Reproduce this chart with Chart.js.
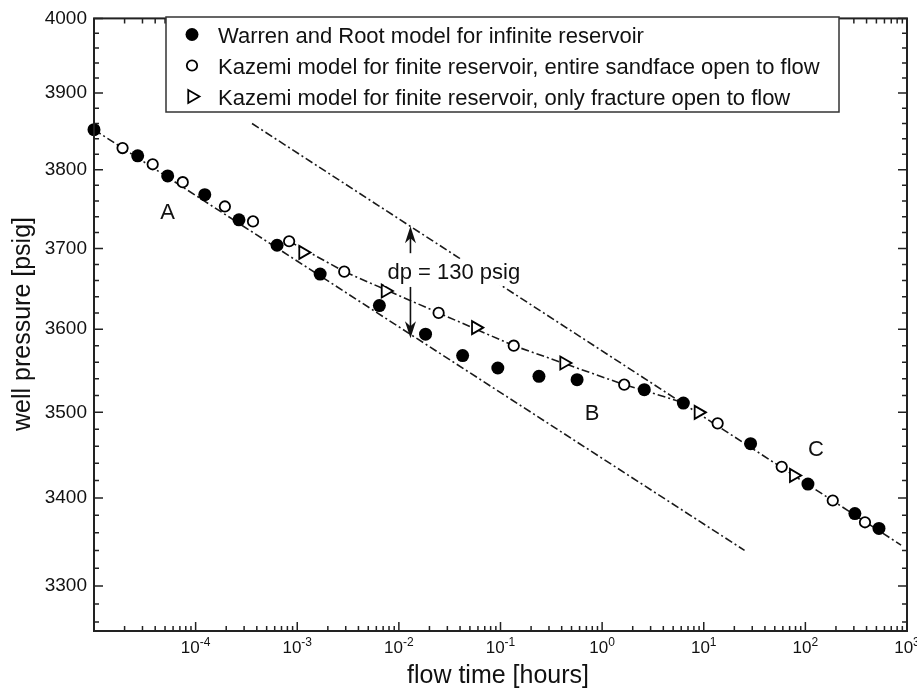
<!DOCTYPE html>
<html>
<head>
<meta charset="utf-8">
<script src="https://cdn.jsdelivr.net/npm/chart.js@4.4.1/dist/chart.umd.min.js"></script>
<style>
  html, body { margin: 0; padding: 0; background: #fff; }
  #wrap { width: 917px; height: 695px; }
</style>
</head>
<body>
<div id="wrap"><canvas id="chart"></canvas></div>
<script>
// valores (tempo em horas, pressão em psig)
const wrTime = [1e-5, 2.69e-5, 5.31e-5, 1.23e-4, 2.67e-4, 6.33e-4, 1.68e-3, 6.43e-3, 0.0183, 0.0424, 0.0941, 0.239, 0.567, 2.6, 6.3, 28.9, 106, 307, 530];
const wrPressure = [3852, 3818, 3792, 3768, 3736, 3704, 3668, 3629, 3594, 3568, 3553, 3543, 3539, 3527, 3511, 3463, 3416, 3382, 3365];

const sandTime = [1.91e-5, 3.78e-5, 7.47e-5, 1.94e-4, 3.67e-4, 8.32e-4, 2.9e-3, 0.0246, 0.135, 1.65, 13.7, 58.5, 186, 386];
const sandPressure = [3828, 3807, 3784, 3753, 3734, 3709, 3671, 3620, 3580, 3533, 3487, 3436, 3397, 3372];

const fracTime = [1.14e-3, 7.38e-3, 0.0571, 0.422, 8.86, 76.8];
const fracPressure = [3695, 3647, 3602, 3559, 3500, 3426];

// retas e curva tracejadas
const lineATime = [1e-5, 25.2];
const lineAPressure = [3852, 3340];
const lineCTime = [3.59e-4, 874];
const lineCPressure = [3860, 3346];
const kazemiTime = [8.32e-4, 2.9e-3, 0.0246, 0.135, 1.65, 2.6, 5.75];
const kazemiPressure = [3709, 3671, 3620, 3580, 3533, 3526, 3513];

const seriesLabels = [
  "Warren and Root model for infinite reservoir",
  "Kazemi model for finite reservoir, entire sandface open to flow",
  "Kazemi model for finite reservoir, only fracture open to flow"
];

const yTicks = [3300, 3400, 3500, 3600, 3700, 3800, 3900, 4000];
const xTickExp = [-4, -3, -2, -1, 0, 1, 2, 3];

// anotações (posição em coordenadas de dados)
const notes = [
  { text: "A", t: 5.3e-5, p: 3745 },
  { text: "B", t: 0.797, p: 3498 },
  { text: "C", t: 126.7, p: 3456 }
];
const dp = { t: 0.013, top: 3728, topEnd: 3694, bottomStart: 3652, bottom: 3589, label: "dp = 130 psig", labelT: 7.72e-3, labelP: 3662 };

const FONT = '"Liberation Sans", Arial, Helvetica, sans-serif';
const INK = "#111";
const DASH = [8, 3, 2, 3];

const pts = (xs, ys) => xs.map((x, i) => ({ x: x, y: ys[i] }));

function drawMarker(ctx, ds, x, y) {
  ctx.save();
  ctx.fillStyle = ds.backgroundColor;
  ctx.strokeStyle = ds.borderColor;
  ctx.lineWidth = ds.borderWidth;
  ctx.beginPath();
  if (ds.pointStyle === "triangle") {
    let rad = Math.PI / 2;
    const r = ds.pointRadius;
    ctx.moveTo(x + Math.sin(rad) * r, y - Math.cos(rad) * r);
    rad += 2 * Math.PI / 3;
    ctx.lineTo(x + Math.sin(rad) * r, y - Math.cos(rad) * r);
    rad += 2 * Math.PI / 3;
    ctx.lineTo(x + Math.sin(rad) * r, y - Math.cos(rad) * r);
    ctx.closePath();
  } else {
    ctx.arc(x, y, ds.pointRadius, 0, Math.PI * 2);
  }
  ctx.fill();
  if (ds.borderWidth > 0) ctx.stroke();
  ctx.restore();
}

const figure = {
  id: "figure",
  afterDatasetsDraw(chart) {
    const { ctx, scales: { x, y } } = chart;
    ctx.save();
    ctx.fillStyle = INK;
    ctx.strokeStyle = INK;

    // letras A, B, C
    ctx.font = "22px " + FONT;
    ctx.textAlign = "center";
    ctx.textBaseline = "middle";
    notes.forEach(n => ctx.fillText(n.text, x.getPixelForValue(n.t), y.getPixelForValue(n.p)));

    // texto dp com fundo branco (corta a reta de cima)
    ctx.textAlign = "left";
    ctx.textBaseline = "alphabetic";
    const lx = x.getPixelForValue(dp.labelT), ly = y.getPixelForValue(dp.labelP);
    const lw = ctx.measureText(dp.label).width;
    ctx.fillStyle = "#fff";
    ctx.fillRect(lx - 3, ly - 20, lw + 6, 27);
    ctx.fillStyle = INK;
    ctx.fillText(dp.label, lx, ly);

    // setas dp
    const ax = x.getPixelForValue(dp.t);
    const arrow = (fromP, tipP) => {
      const y0 = y.getPixelForValue(fromP), y1 = y.getPixelForValue(tipP);
      const dir = y1 > y0 ? 1 : -1;
      ctx.lineWidth = 1.6;
      ctx.beginPath();
      ctx.moveTo(ax, y0);
      ctx.lineTo(ax, y1 - dir * 6);
      ctx.stroke();
      ctx.beginPath();
      ctx.moveTo(ax, y1);
      ctx.lineTo(ax - 5.5, y1 - dir * 17);
      ctx.lineTo(ax, y1 - dir * 12);
      ctx.lineTo(ax + 5.5, y1 - dir * 17);
      ctx.closePath();
      ctx.fill();
    };
    arrow(dp.topEnd, dp.top);
    arrow(dp.bottomStart, dp.bottom);
    ctx.restore();
  },
  afterDraw(chart) {
    const { ctx, chartArea: a, scales: { x, y } } = chart;
    ctx.save();
    ctx.strokeStyle = "#222";
    ctx.fillStyle = INK;

    // moldura
    ctx.lineWidth = 2;
    ctx.strokeRect(a.left, a.top, a.right - a.left, a.bottom - a.top);

    // marcas do eixo x (log)
    ctx.lineWidth = 1.5;
    ctx.beginPath();
    for (let e = -5; e <= 3; e++) {
      for (let m = 1; m <= 9; m++) {
        const v = m * Math.pow(10, e);
        if (v < x.min * 0.999 || v > x.max * 1.001) continue;
        const px = x.getPixelForValue(v);
        const len = m === 1 ? 9 : 5;
        ctx.moveTo(px, a.bottom); ctx.lineTo(px, a.bottom - len);
        ctx.moveTo(px, a.top); ctx.lineTo(px, a.top + len);
      }
    }
    // marcas do eixo y
    for (let v = 3260; v <= 4000; v += 20) {
      const py = y.getPixelForValue(v);
      const len = v % 100 === 0 ? 9 : 5;
      ctx.moveTo(a.left, py); ctx.lineTo(a.left + len, py);
      ctx.moveTo(a.right, py); ctx.lineTo(a.right - len, py);
    }
    ctx.stroke();

    // rótulos do eixo x: 10^n
    ctx.textBaseline = "alphabetic";
    ctx.textAlign = "left";
    xTickExp.forEach(e => {
      const px = x.getPixelForValue(Math.pow(10, e));
      ctx.font = "17px " + FONT;
      const w1 = ctx.measureText("10").width;
      ctx.font = "12px " + FONT;
      const sup = String(e);
      const w2 = ctx.measureText(sup).width;
      const x0 = px - (w1 + w2) / 2;
      ctx.font = "17px " + FONT;
      ctx.fillText("10", x0, a.bottom + 22);
      ctx.font = "12px " + FONT;
      ctx.fillText(sup, x0 + w1, a.bottom + 15);
    });

    // títulos dos eixos
    ctx.font = "25px " + FONT;
    ctx.textAlign = "center";
    ctx.fillText("flow time [hours]", 498, 683);
    ctx.save();
    ctx.translate(30, 324);
    ctx.rotate(-Math.PI / 2);
    ctx.fillText("well pressure [psig]", 0, 0);
    ctx.restore();

    // legenda
    ctx.fillStyle = "#fff";
    ctx.fillRect(166, 17, 673, 95);
    ctx.lineWidth = 1.5;
    ctx.strokeStyle = "#333";
    ctx.strokeRect(166, 17, 673, 95);
    ctx.font = "22px " + FONT;
    ctx.textAlign = "left";
    ctx.textBaseline = "alphabetic";
    chart.data.datasets.slice(0, 3).forEach((ds, i) => {
      const ry = 34.5 + i * 31;
      drawMarker(ctx, ds, 192, ry);
      ctx.fillStyle = INK;
      ctx.fillText(ds.label, 218, ry + 8.5);
    });
    ctx.restore();
  }
};

const dashed = (xs, ys) => ({
  data: pts(xs, ys),
  showLine: true,
  borderColor: "#1a1a1a",
  borderWidth: 1.6,
  borderDash: DASH,
  pointRadius: 0,
  fill: false
});

new Chart(document.getElementById("chart"), {
  type: "scatter",
  data: {
    datasets: [
      {
        label: seriesLabels[0],
        data: pts(wrTime, wrPressure),
        pointStyle: "circle",
        pointRadius: 6.5,
        backgroundColor: "#000",
        borderColor: "#000",
        borderWidth: 0,
        clip: false
      },
      {
        label: seriesLabels[1],
        data: pts(sandTime, sandPressure),
        pointStyle: "circle",
        pointRadius: 5.2,
        backgroundColor: "#fff",
        borderColor: "#000",
        borderWidth: 1.8,
        clip: false
      },
      {
        label: seriesLabels[2],
        data: pts(fracTime, fracPressure),
        pointStyle: "triangle",
        pointRotation: 90,
        pointRadius: 7.5,
        backgroundColor: "#fff",
        borderColor: "#000",
        borderWidth: 1.8,
        clip: false
      },
      dashed(lineATime, lineAPressure),
      dashed(lineCTime, lineCPressure),
      dashed(kazemiTime, kazemiPressure)
    ]
  },
  options: {
    responsive: true,
    maintainAspectRatio: false,
    animation: false,
    layout: { padding: { left: 0, top: 12, right: 10, bottom: 0 } },
    plugins: { legend: { display: false }, tooltip: { enabled: false } },
    scales: {
      x: {
        type: "logarithmic",
        min: 1e-5,
        max: 1e3,
        grid: { display: false, drawTicks: false },
        border: { display: false },
        ticks: { display: false },
        afterFit: s => { s.height = 64; }
      },
      y: {
        type: "logarithmic",
        min: 3250,
        max: 4000,
        grid: { display: false, drawTicks: false },
        border: { display: false },
        afterBuildTicks: s => { s.ticks = yTicks.map(v => ({ value: v })); },
        ticks: {
          autoSkip: false,
          padding: 7,
          color: INK,
          font: { family: FONT, size: 19 },
          callback: v => String(v)
        },
        afterFit: s => { s.width = 94; }
      }
    }
  },
  plugins: [figure]
});
</script>
</body>
</html>
